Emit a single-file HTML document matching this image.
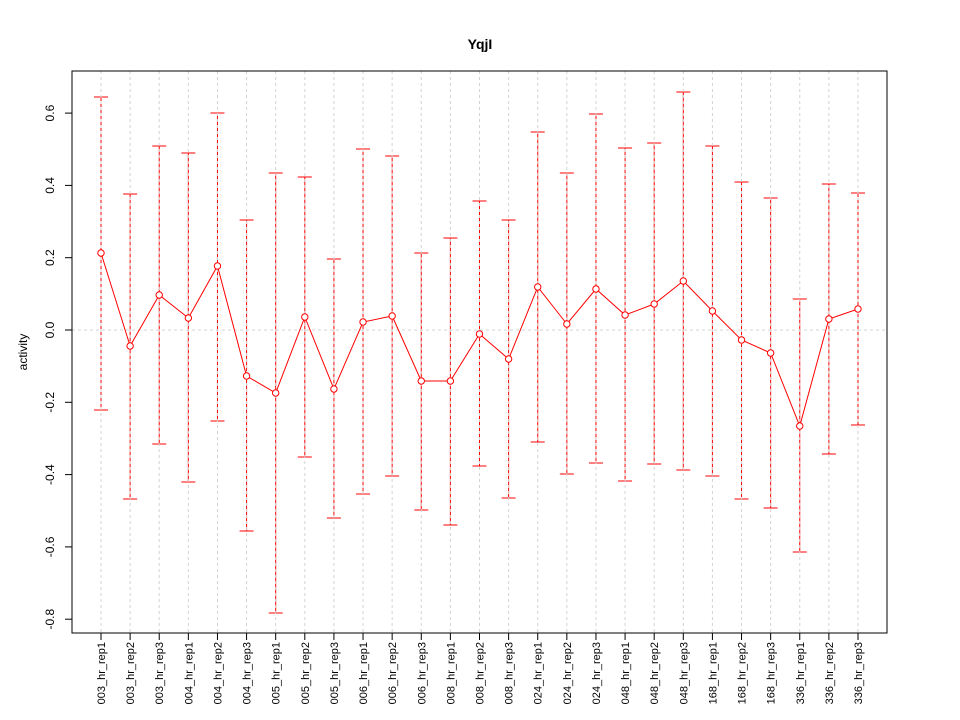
<!DOCTYPE html>
<html><head><meta charset="utf-8"><style>body{margin:0;background:#fff}svg{display:block}text{font-family:"Liberation Sans",sans-serif}</style></head>
<body><svg id="s" width="960" height="720" xmlns="http://www.w3.org/2000/svg"></svg>
<script>
var s=document.getElementById('s'),h='';
var L=72,R=887,T=71,B=633;
function Y(v){return 330-v*361.5;}
h+='<text x="480" y="49" text-anchor="middle" font-size="14" font-weight="bold">YqjI</text>';
var names=['003_hr_rep1','003_hr_rep2','003_hr_rep3','004_hr_rep1','004_hr_rep2','004_hr_rep3','005_hr_rep1','005_hr_rep2','005_hr_rep3','006_hr_rep1','006_hr_rep2','006_hr_rep3','008_hr_rep1','008_hr_rep2','008_hr_rep3','024_hr_rep1','024_hr_rep2','024_hr_rep3','048_hr_rep1','048_hr_rep2','048_hr_rep3','168_hr_rep1','168_hr_rep2','168_hr_rep3','336_hr_rep1','336_hr_rep2','336_hr_rep3'];
var d=[[253,97,410],[346,194,499],[295,146,444],[318,153,482],[266,113,421],[376,220,531],[393,173,613],[317,177,457],[389,259,518],[322,149,494],[316,156,476],[381,253,510],[381,238,525],[334,201,466],[359,220,498],[287,132,442],[324,173,474],[289,114,463],[315,148,481],[304,143,464],[281,92,470],[311,146,476],[340,182,499],[353,198,508],[426,299,552],[319,184,454],[309,193,425]];
function X(i){return 101+i*29.115;}
// error bars
for(var i=0;i<27;i++){var x=X(i),c=d[i];
h+='<line x1="'+x+'" y1="'+c[1]+'" x2="'+x+'" y2="'+c[2]+'" stroke="#f00" stroke-width="1"/>';
h+='<line x1="'+(x-7)+'" y1="'+c[1]+'" x2="'+(x+7)+'" y2="'+c[1]+'" stroke="#f00"/>';
h+='<line x1="'+(x-7)+'" y1="'+c[2]+'" x2="'+(x+7)+'" y2="'+c[2]+'" stroke="#f00"/>';}
// grid
for(var i=0;i<27;i++){var x=X(i);h+='<line x1="'+x+'" y1="'+T+'" x2="'+x+'" y2="'+B+'" stroke="#d3d3d3" stroke-dasharray="3,3"/>';}
h+='<line x1="'+L+'" y1="'+Y(0)+'" x2="'+R+'" y2="'+Y(0)+'" stroke="#d3d3d3" stroke-dasharray="3,3"/>';
// line segments
var p='';for(var i=0;i<27;i++){p+=(i?'L':'M')+X(i)+','+d[i][0];}
h+='<path d="'+p+'" fill="none" stroke="#f00"/>';
for(var i=0;i<27;i++){h+='<circle cx="'+X(i)+'" cy="'+d[i][0]+'" r="3.2" fill="#fff" stroke="#f00"/>';}
h+='<rect x="'+L+'" y="'+T+'" width="'+(R-L)+'" height="'+(B-T)+'" fill="none" stroke="#000"/>';
// y axis
for(var v=-0.8;v<=0.61;v+=0.2){var y=Y(v),t=(Math.abs(v)<1e-9?0:v).toFixed(1);
h+='<line x1="'+L+'" y1="'+y+'" x2="'+(L-7)+'" y2="'+y+'" stroke="#000"/>';
h+='<text transform="translate(54,'+y+') rotate(-90)" text-anchor="middle" font-size="12">'+t+'</text>';}
h+='<text transform="translate(27,352) rotate(-90)" text-anchor="middle" font-size="12">activity</text>';
for(var i=0;i<27;i++){var x=X(i);
h+='<line x1="'+x+'" y1="'+B+'" x2="'+x+'" y2="'+(B+7)+'" stroke="#000"/>';
h+='<text transform="translate('+(x+4)+',642) rotate(-90)" text-anchor="end" font-size="11">'+names[i]+'</text>';}
s.innerHTML=h;
</script></body></html>
